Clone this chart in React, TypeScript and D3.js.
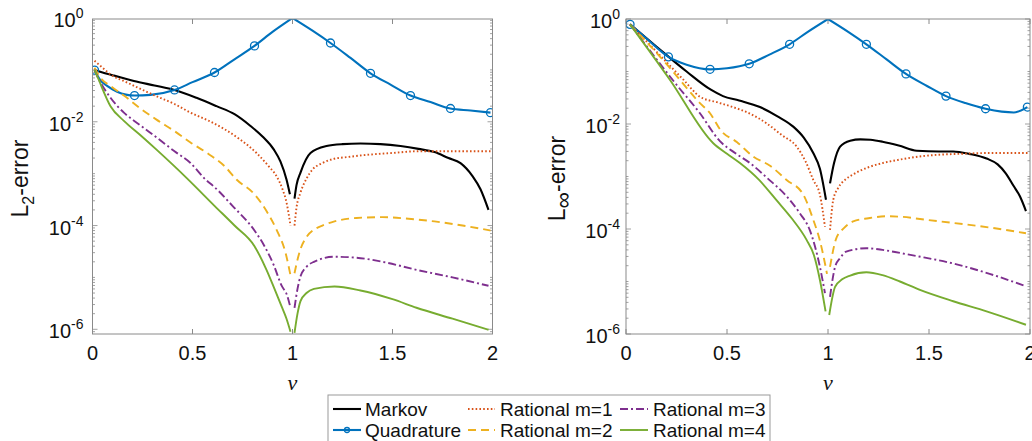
import React from 'react';
import * as d3 from 'd3';

// ---------- data ----------
const xTicks = [0, 0.5, 1, 1.5, 2];
const xTickLabels = ['0', '0.5', '1', '1.5', '2'];
const yTickExps = [0, -2, -4, -6];

const seriesNames = ['Markov', 'Quadrature', 'Rational m=1', 'Rational m=2', 'Rational m=3', 'Rational m=4'];

// L2-error panel
const l2QuadNu = [0.01, 0.04, 0.073, 0.123, 0.21, 0.29, 0.41, 0.5, 0.61, 0.71, 0.81, 0.9, 1.0, 1.1, 1.19, 1.29, 1.39, 1.49, 1.59, 1.69, 1.79, 1.89, 1.99];
const l2QuadVal = [0.099, 0.063, 0.049, 0.038, 0.032, 0.033, 0.041, 0.058, 0.089, 0.16, 0.29, 0.54, 1.0, 0.57, 0.33, 0.17, 0.086, 0.052, 0.032, 0.024, 0.018, 0.0165, 0.015];
const l2QuadMarkers = [0.01, 0.21, 0.41, 0.61, 0.81, 1.19, 1.39, 1.59, 1.79, 1.99];

const l2MarkovNu = [0.01, 0.1, 0.207, 0.31, 0.41, 0.52, 0.62, 0.71, 0.79, 0.85, 0.907, 0.94, 0.97, 0.987, 1.01, 1.02, 1.04, 1.09, 1.17, 1.25, 1.34, 1.44, 1.54, 1.63, 1.71, 1.78, 1.84, 1.9, 1.94, 1.98];
const l2MarkovVal = [0.1, 0.079, 0.061, 0.05, 0.041, 0.029, 0.02, 0.014, 0.0083, 0.0052, 0.0029, 0.0017, 7.7e-4, 4.0e-4, 3.3e-4, 6e-4, 0.00105, 0.0025, 0.0034, 0.0037, 0.0038, 0.0037, 0.0034, 0.003, 0.0026, 0.002, 0.0016, 9e-4, 5e-4, 2e-4];

const l2R1Nu = [0.01, 0.05, 0.1, 0.157, 0.24, 0.32, 0.41, 0.49, 0.58, 0.66, 0.74, 0.82, 0.88, 0.92, 0.95, 0.97, 0.99, 1.01, 1.02, 1.04, 1.07, 1.1, 1.15, 1.2, 1.28, 1.37, 1.5, 1.62, 1.8, 1.99];
const l2R1Val = [0.15, 0.11, 0.077, 0.061, 0.043, 0.031, 0.022, 0.015, 0.0105, 0.0072, 0.0045, 0.0025, 0.0014, 9e-4, 5e-4, 2.8e-4, 1.0e-4, 1.0e-4, 2.2e-4, 4.3e-4, 8e-4, 0.0012, 0.0016, 0.0019, 0.0021, 0.0023, 0.0025, 0.0027, 0.0027, 0.0027];

const l2R2Nu = [0.01, 0.04, 0.09, 0.157, 0.24, 0.32, 0.41, 0.49, 0.58, 0.66, 0.72, 0.81, 0.87, 0.92, 0.965, 0.99, 1.01, 1.025, 1.04, 1.07, 1.107, 1.15, 1.21, 1.32, 1.45, 1.58, 1.71, 1.85, 1.99];
const l2R2Val = [0.11, 0.07, 0.049, 0.032, 0.018, 0.011, 0.0066, 0.004, 0.0024, 0.0014, 7.7e-4, 4e-4, 1.9e-4, 8.3e-5, 3e-5, 1.1e-5, 1.2e-5, 2.2e-5, 3.5e-5, 6e-5, 8.3e-5, 1e-4, 1.2e-4, 1.4e-4, 1.45e-4, 1.35e-4, 1.2e-4, 1e-4, 8e-5];

const l2R3Nu = [0.01, 0.023, 0.09, 0.157, 0.24, 0.32, 0.41, 0.49, 0.565, 0.61, 0.7, 0.81, 0.86, 0.907, 0.945, 0.973, 0.99, 1.01, 1.025, 1.04, 1.07, 1.107, 1.21, 1.32, 1.45, 1.62, 1.8, 1.98];
const l2R3Val = [0.1, 0.077, 0.029, 0.015, 0.0085, 0.005, 0.0027, 0.0016, 7.7e-4, 5.5e-4, 2.4e-4, 8e-5, 4e-5, 1.7e-5, 7e-6, 4.5e-6, 2.6e-6, 2.6e-6, 6e-6, 1.05e-5, 1.6e-5, 2e-5, 2.5e-5, 2.4e-5, 2e-5, 1.4e-5, 1e-5, 6.9e-6];

const l2R4Nu = [0.01, 0.03, 0.09, 0.157, 0.24, 0.32, 0.47, 0.61, 0.71, 0.81, 0.87, 0.91, 0.945, 0.97, 0.99, 1.01, 1.025, 1.04, 1.07, 1.107, 1.21, 1.34, 1.5, 1.62, 1.8, 1.98];
const l2R4Val = [0.1, 0.066, 0.02, 0.0104, 0.0055, 0.0029, 8.3e-4, 2.4e-4, 1e-4, 4e-5, 1.4e-5, 6e-6, 2.8e-6, 1.6e-6, 9e-7, 8.5e-7, 2e-6, 3.5e-6, 5e-6, 6e-6, 6.7e-6, 5.6e-6, 3.8e-6, 2.6e-6, 1.6e-6, 9.8e-7];

// L-infinity-error panel
const liQuadNu = [0.02, 0.1, 0.21, 0.3, 0.416, 0.5, 0.61, 0.71, 0.81, 0.9, 1.0, 1.1, 1.19, 1.29, 1.386, 1.49, 1.584, 1.68, 1.78, 1.86, 1.92, 1.987];
const liQuadVal = [0.79, 0.43, 0.19, 0.135, 0.11, 0.115, 0.14, 0.21, 0.33, 0.57, 1.0, 0.57, 0.33, 0.17, 0.09, 0.053, 0.034, 0.025, 0.0195, 0.0172, 0.0166, 0.021];
const liQuadMarkers = [0.02, 0.21, 0.416, 0.61, 0.81, 1.19, 1.386, 1.584, 1.78, 1.987];

const liMarkovNu = [0.02, 0.15, 0.3, 0.42, 0.48, 0.56, 0.663, 0.75, 0.828, 0.88, 0.927, 0.96, 0.99, 1.01, 1.03, 1.06, 1.11, 1.16, 1.21, 1.27, 1.35, 1.44, 1.55, 1.62, 1.7, 1.785, 1.84, 1.88, 1.92, 1.95, 1.98];
const liMarkovVal = [0.79, 0.3, 0.1, 0.045, 0.034, 0.028, 0.021, 0.014, 0.0089, 0.0055, 0.0028, 0.0014, 3.6e-4, 7.4e-4, 0.0018, 0.0037, 0.0048, 0.0051, 0.005, 0.0046, 0.0039, 0.0031, 0.003, 0.003, 0.0027, 0.0022, 0.0017, 0.00115, 6.5e-4, 4.2e-4, 2.2e-4];

const liR1Nu = [0.02, 0.15, 0.284, 0.366, 0.45, 0.53, 0.61, 0.696, 0.77, 0.845, 0.89, 0.927, 0.96, 0.985, 1.01, 1.026, 1.05, 1.09, 1.125, 1.2, 1.27, 1.356, 1.45, 1.55, 1.65, 1.8, 1.99];
const liR1Val = [0.79, 0.24, 0.07, 0.033, 0.026, 0.021, 0.016, 0.0103, 0.0062, 0.0037, 0.0019, 8.6e-4, 4.5e-4, 1.1e-4, 9.6e-5, 3.6e-4, 6e-4, 9e-4, 0.0011, 0.0015, 0.0018, 0.0021, 0.0024, 0.0026, 0.0027, 0.0028, 0.0028];

const liR2Nu = [0.02, 0.2, 0.366, 0.416, 0.47, 0.55, 0.63, 0.713, 0.795, 0.878, 0.927, 0.96, 0.985, 0.995, 1.01, 1.04, 1.08, 1.125, 1.2, 1.29, 1.37, 1.455, 1.55, 1.7, 1.85, 1.98];
const liR2Val = [0.79, 0.14, 0.025, 0.016, 0.0075, 0.0045, 0.0024, 0.0016, 8.6e-4, 4.5e-4, 1.5e-4, 6e-5, 2.2e-5, 1.4e-5, 1.9e-5, 6.5e-5, 1.05e-4, 1.4e-4, 1.6e-4, 1.75e-4, 1.7e-4, 1.55e-4, 1.4e-4, 1.2e-4, 1e-4, 8.3e-5];

const liR3Nu = [0.02, 0.25, 0.366, 0.465, 0.54, 0.614, 0.7, 0.795, 0.86, 0.91, 0.96, 0.985, 1.01, 1.035, 1.06, 1.09, 1.19, 1.27, 1.356, 1.45, 1.62, 1.8, 1.98];
const liR3Val = [0.79, 0.056, 0.016, 0.0047, 0.0028, 0.0018, 9.3e-4, 4.2e-4, 2e-4, 9.5e-5, 1.9e-5, 6e-6, 5.1e-6, 1.9e-5, 2.8e-5, 3.7e-5, 4.3e-5, 4e-5, 3.5e-5, 3e-5, 2.2e-5, 1.4e-5, 8.1e-6];

const liR4Nu = [0.02, 0.218, 0.432, 0.5, 0.564, 0.66, 0.746, 0.82, 0.894, 0.93, 0.96, 0.988, 1.006, 1.035, 1.07, 1.11, 1.19, 1.27, 1.356, 1.455, 1.62, 1.785, 1.98];
const liR4Val = [0.79, 0.069, 0.0043, 0.0027, 0.0018, 8.5e-4, 3.5e-4, 1.6e-4, 6.2e-5, 3.2e-5, 1.07e-5, 2.7e-6, 2.3e-6, 7.9e-6, 1.1e-5, 1.3e-5, 1.5e-5, 1.32e-5, 1.0e-5, 6.9e-6, 4.2e-6, 2.7e-6, 1.5e-6];

// ---------- styles ----------
const STYLE: Record<string, { color: string; dash: string; width: number }> = {
  'Markov': { color: '#000000', dash: 'none', width: 2.1 },
  'Quadrature': { color: '#0072BD', dash: 'none', width: 2.1 },
  'Rational m=1': { color: '#D95319', dash: '1.6 2.2', width: 1.9 },
  'Rational m=2': { color: '#EDB120', dash: '8 5', width: 1.9 },
  'Rational m=3': { color: '#7E2F8E', dash: '8 3 2 3', width: 1.9 },
  'Rational m=4': { color: '#77AC30', dash: 'none', width: 1.9 },
};

const FONT = "'Liberation Sans', Arial, Helvetica, sans-serif";
const AXIS_COLOR = '#8a8a8a';

type Series = { name: string; nu: number[]; val: number[]; markers?: number[] };

const l2Series: Series[] = [
  { name: seriesNames[0], nu: l2MarkovNu, val: l2MarkovVal },
  { name: seriesNames[1], nu: l2QuadNu, val: l2QuadVal, markers: l2QuadMarkers },
  { name: seriesNames[2], nu: l2R1Nu, val: l2R1Val },
  { name: seriesNames[3], nu: l2R2Nu, val: l2R2Val },
  { name: seriesNames[4], nu: l2R3Nu, val: l2R3Val },
  { name: seriesNames[5], nu: l2R4Nu, val: l2R4Val },
];
const liSeries: Series[] = [
  { name: seriesNames[0], nu: liMarkovNu, val: liMarkovVal },
  { name: seriesNames[1], nu: liQuadNu, val: liQuadVal, markers: liQuadMarkers },
  { name: seriesNames[2], nu: liR1Nu, val: liR1Val },
  { name: seriesNames[3], nu: liR2Nu, val: liR2Val },
  { name: seriesNames[4], nu: liR3Nu, val: liR3Val },
  { name: seriesNames[5], nu: liR4Nu, val: liR4Val },
];

type PanelProps = {
  id: string;
  left: number; right: number; top: number; bottom: number;
  yAt1: number; yAt1e6: number;
  series: Series[];
  labelKind: 'L2' | 'Linf';
  labelX: number;
  tickGap: number;
};

function Panel(p: PanelProps) {
  const x = d3.scaleLinear().domain([0, 2]).range([p.left, p.right]);
  const y = d3.scaleLog().domain([1e-6, 1]).range([p.yAt1e6, p.yAt1]);
  const line = d3.line<[number, number]>().x(d => x(d[0])).y(d => y(d[1])).curve(d3.curveMonotoneX);

  const minor: number[] = [];
  for (let e = -7; e <= 0; e++) {
    for (let k = 1; k <= 9; k++) {
      const v = k * Math.pow(10, e);
      const py = y(v);
      if (py >= p.top - 0.01 && py <= p.bottom + 0.01) minor.push(v);
    }
  }

  const midY = (p.top + p.bottom) / 2;

  return (
    <g>
      <defs>
        <clipPath id={'clip-' + p.id}>
          <rect x={p.left} y={p.top} width={p.right - p.left} height={p.bottom - p.top} />
        </clipPath>
      </defs>
      <rect x={p.left} y={p.top} width={p.right - p.left} height={p.bottom - p.top} fill="#fff" />
      {xTicks.map(t => (
        <g key={'xt' + t}>
          <line x1={x(t)} x2={x(t)} y1={p.bottom} y2={p.bottom - 5} stroke={AXIS_COLOR} strokeWidth={1} />
          <line x1={x(t)} x2={x(t)} y1={p.top} y2={p.top + 5} stroke={AXIS_COLOR} strokeWidth={1} />
        </g>
      ))}
      {minor.map((v, i) => {
        const lg = Math.log10(v);
        const isMajor = Math.abs(lg - Math.round(lg)) < 1e-9 && yTickExps.includes(Math.round(lg));
        const len = isMajor ? 5 : 2.5;
        return (
          <g key={'ym' + i}>
            <line x1={p.left} x2={p.left + len} y1={y(v)} y2={y(v)} stroke={AXIS_COLOR} strokeWidth={0.8} />
            <line x1={p.right} x2={p.right - len} y1={y(v)} y2={y(v)} stroke={AXIS_COLOR} strokeWidth={0.8} />
          </g>
        );
      })}
      <g clipPath={`url(#clip-${p.id})`}>
        {p.series.map(s => {
          const st = STYLE[s.name];
          const pts: [number, number][] = s.nu.map((n, i) => [n, s.val[i]]);
          const leftB = pts.filter(d => d[0] <= 1);
          const rightB = pts.filter(d => d[0] >= 1);
          return (
            <g key={s.name}>
              {[leftB, rightB].map((b, bi) => (
                <path key={bi} d={line(b) || ''} fill="none" stroke={st.color} strokeWidth={st.width}
                  strokeDasharray={st.dash} strokeLinejoin="round" />
              ))}
              {s.markers && s.markers.map(m => {
                const idx = s.nu.indexOf(m);
                return <circle key={m} cx={x(m)} cy={y(s.val[idx])} r={4} fill="none" stroke={st.color} strokeWidth={1.3} />;
              })}
            </g>
          );
        })}
      </g>
      <rect x={p.left} y={p.top} width={p.right - p.left} height={p.bottom - p.top} fill="none" stroke={AXIS_COLOR} strokeWidth={1} />
      {xTicks.map((t, i) => (
        <text key={'xl' + t} x={x(t)} y={360} textAnchor="middle" fontSize={20} fontFamily={FONT} fill="#111">{xTickLabels[i]}</text>
      ))}
      {yTickExps.map(e => (
        <text key={'yl' + e} x={p.left - p.tickGap} y={y(Math.pow(10, e)) + 9} textAnchor="end" fontSize={20} fontFamily={FONT} fill="#111">
          10<tspan dy={-9} fontSize={14}>{e === 0 ? '0' : '-' + String(-e)}</tspan>
        </text>
      ))}
      <text x={x(1)} y={390} textAnchor="middle" fontSize={22} fontStyle="italic" fontFamily="'Liberation Serif', 'Times New Roman', serif" fill="#111">ν</text>
      <text transform={`translate(${p.labelX},${midY + 2}) rotate(-90)`} textAnchor="middle" fontSize={23} fontFamily={FONT} fill="#111">
        {p.labelKind === 'L2' ? (
          <>L<tspan dy={6} fontSize={16}>2</tspan><tspan dy={-6}>-error</tspan></>
        ) : (
          <>L<tspan dy={6} fontSize={23}>∞</tspan><tspan dy={-6}>-error</tspan></>
        )}
      </text>
    </g>
  );
}

function Legend() {
  const cols = [
    { lineX0: 333, lineX1: 361, textX: 365, names: [seriesNames[0], seriesNames[1]] },
    { lineX0: 468, lineX1: 495, textX: 500, names: [seriesNames[2], seriesNames[3]] },
    { lineX0: 620, lineX1: 648, textX: 653, names: [seriesNames[4], seriesNames[5]] },
  ];
  const rows = [409, 430];
  return (
    <g>
      <rect x={328} y={395} width={442} height={60} fill="#fff" stroke="#9a9a9a" strokeWidth={1} />
      {cols.map(c => c.names.map((n, ri) => {
        const st = STYLE[n];
        const yy = rows[ri];
        return (
          <g key={n}>
            <line x1={c.lineX0} x2={c.lineX1} y1={yy} y2={yy} stroke={st.color} strokeWidth={st.width} strokeDasharray={st.dash} />
            {n === 'Quadrature' && <circle cx={(c.lineX0 + c.lineX1) / 2} cy={yy} r={2.5} fill="none" stroke={st.color} strokeWidth={1.3} />}
            <text x={c.textX} y={yy + 7} fontSize={19} fontFamily={FONT} fill="#111">{n}</text>
          </g>
        );
      }))}
    </g>
  );
}

export default function App() {
  return (
    <svg width={1032} height={441} style={{ position: 'absolute', left: 0, top: 0, background: '#fff' }}>
      <rect x={0} y={0} width={1032} height={441} fill="#fff" />
      <Panel id="l2" left={92.5} right={492.5} top={19} bottom={334} yAt1={18} yAt1e6={329.3}
        series={l2Series} labelKind="L2" labelX={28} tickGap={9} />
      <Panel id="li" left={626} right={1030} top={19} bottom={334} yAt1={19} yAt1e6={334}
        series={liSeries} labelKind="Linf" labelX={565} tickGap={6} />
      <Legend />
    </svg>
  );
}
